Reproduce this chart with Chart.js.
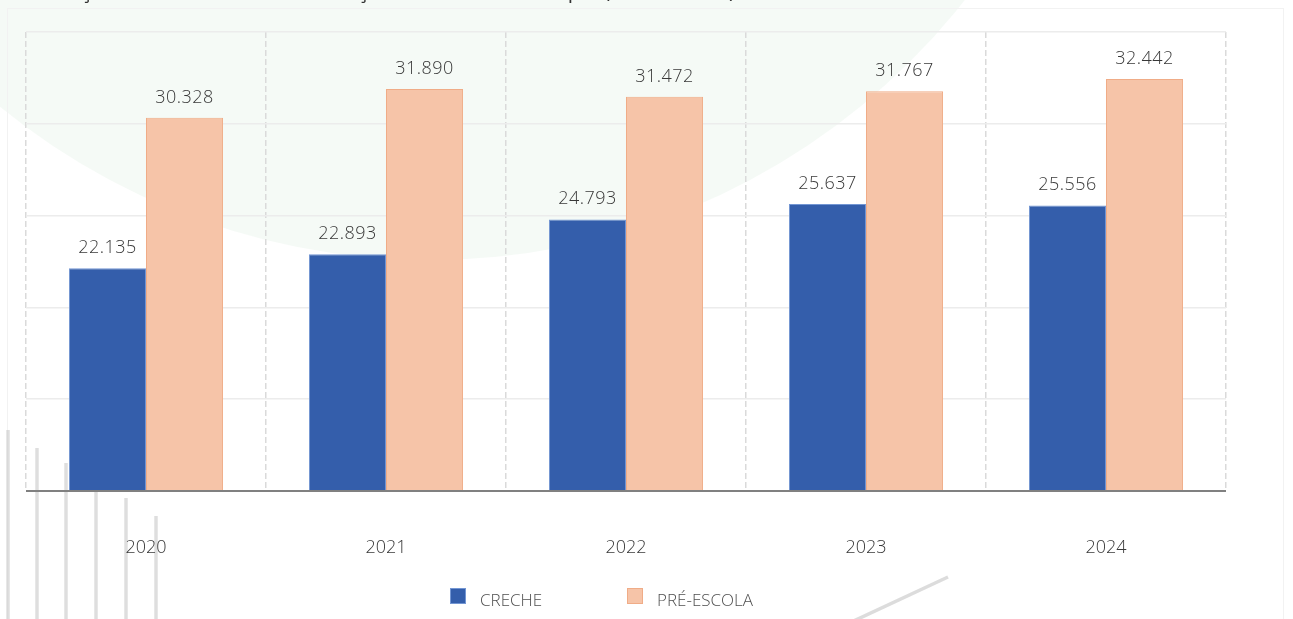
<!DOCTYPE html>
<html>
<head>
<meta charset="utf-8">
<script src="https://cdn.jsdelivr.net/npm/chart.js@4/dist/chart.umd.min.js"></script>
<style>
  html,body{margin:0;padding:0;background:#ffffff;}
  #wrap{width:1293px;height:619px;position:relative;}
</style>
</head>
<body>
<div id="wrap"><canvas id="c" width="1293" height="619"></canvas></div>
<script>
const titleText = "Evolução das matrículas na educação infantil no município (2020 a 2024)";
const categories = ["2020", "2021", "2022", "2023", "2024"];
const seriesNames = ["CRECHE", "PRÉ-ESCOLA"];
const creche = [22135, 22893, 24793, 25637, 25556];
const preEscola = [30328, 31890, 31472, 31767, 32442];
const yTicks = [10000, 15000, 20000, 25000, 30000, 35000];

const FONT = '"Open Sans", "Liberation Sans", sans-serif';
const BLUE = '#345eab', BLUE_B = '#7396d3';
const PINK = '#f6c4a8', PINK_B = '#f0ac87';

function fmt(v){ return String(v).replace(/\B(?=(\d{3})+(?!\d))/g, '.'); }

const background = {
  id: 'background',
  beforeDraw(chart){
    const ctx = chart.ctx;
    ctx.save();
    ctx.fillStyle = '#ffffff';
    ctx.fillRect(0,0,chart.width,chart.height);
    // faint decorative circle
    ctx.fillStyle = 'rgba(236,245,239,0.55)';
    ctx.beginPath();
    ctx.arc(430, -420, 680, 0, Math.PI*2);
    ctx.fill();
    // faint frame
    ctx.strokeStyle = '#f2f2f2';
    ctx.lineWidth = 1;
    ctx.strokeRect(7.5, 8.5, 1276, 700);
    // decorative gray lines bottom-left
    ctx.strokeStyle = 'rgba(200,200,200,0.6)';
    ctx.lineWidth = 3.5;
    const xs = [[8,430],[37,448],[66,463],[96,490],[126,498],[156,516]];
    xs.forEach(([x,y])=>{ctx.beginPath();ctx.moveTo(x,y);ctx.lineTo(x,chart.height);ctx.stroke();});
    // diagonal line bottom
    ctx.strokeStyle = 'rgba(205,205,205,0.7)';
    ctx.beginPath(); ctx.moveTo(845,625); ctx.lineTo(948,577); ctx.stroke();
    // cut-off title
    ctx.fillStyle = '#333333';
    ctx.font = '21px ' + FONT;
    ctx.textBaseline = 'alphabetic';
    ctx.fillText(titleText, 28, -2);
    ctx.restore();
  }
};

const baseline = {
  id: 'baseline',
  afterDatasetsDraw(chart){
    const {ctx, chartArea} = chart;
    ctx.save();
    ctx.strokeStyle = '#808080';
    ctx.lineWidth = 2;
    ctx.setLineDash([]);
    ctx.beginPath();
    ctx.moveTo(chartArea.left, chartArea.bottom);
    ctx.lineTo(chartArea.right, chartArea.bottom);
    ctx.stroke();
    ctx.restore();
  }
};

const valueLabels = {
  id: 'valueLabels',
  afterDatasetsDraw(chart){
    const ctx = chart.ctx;
    ctx.save();
    ctx.font = '300 18px ' + FONT;
    ctx.fillStyle = '#383838';
    ctx.textAlign = 'center';
    ctx.textBaseline = 'alphabetic';
    try { ctx.letterSpacing = '0.5px'; } catch(e){}
    chart.data.datasets.forEach((ds, i)=>{
      chart.getDatasetMeta(i).data.forEach((bar, j)=>{
        ctx.fillText(fmt(ds.data[j]), bar.x, bar.y - 15);
      });
    });
    ctx.restore();
  }
};

const customLegend = {
  id: 'customLegend',
  afterDraw(chart){
    const ctx = chart.ctx;
    ctx.save();
    ctx.font = '300 17px ' + FONT;
    ctx.textBaseline = 'middle';
    ctx.textAlign = 'left';
    const starts = [450, 627];
    chart.data.datasets.forEach((ds, i)=>{
      const x = starts[i], y = 588;
      ctx.fillStyle = ds.backgroundColor;
      ctx.fillRect(x, y, 16, 16);
      ctx.strokeStyle = ds.borderColor;
      ctx.lineWidth = 1;
      ctx.strokeRect(x+0.5, y+0.5, 15, 15);
      ctx.fillStyle = '#505050';
      ctx.fillText(ds.label, x + 30, y + 13);
    });
    ctx.restore();
  }
};

new Chart(document.getElementById('c'), {
  type: 'bar',
  data: {
    labels: categories,
    datasets: [
      { label: seriesNames[0], data: creche, backgroundColor: BLUE, borderColor: BLUE_B, borderWidth: 1,
        categoryPercentage: 0.642, barPercentage: 1.0 },
      { label: seriesNames[1], data: preEscola, backgroundColor: PINK, borderColor: PINK_B, borderWidth: 1,
        categoryPercentage: 0.642, barPercentage: 1.0 }
    ]
  },
  options: {
    responsive: false,
    animation: false,
    devicePixelRatio: 1,
    layout: { padding: { left: 26, right: 67, top: 32, bottom: 0 } },
    plugins: {
      legend: { display: false },
      tooltip: { enabled: false },
      title: { display: false }
    },
    scales: {
      x: {
        grid: { display: true, drawTicks: false, color: '#dadada', lineWidth: 1.5, offset: true },
        border: { display: false, dash: [6, 3] },
        ticks: { font: { family: FONT, size: 18, weight: 300 }, color: '#383838', padding: 46 },
        afterFit(scale){ scale.height = 128; }
      },
      y: {
        min: 10000, max: 35000,
        afterBuildTicks(scale){ scale.ticks = yTicks.map(v=>({value:v})); },
        grid: { color: '#ececec', lineWidth: 1.5, drawTicks: false },
        border: { display: false },
        ticks: { display: false },
        afterFit(scale){ scale.width = 0; }
      }
    }
  },
  plugins: [background, baseline, valueLabels, customLegend]
});
</script>
</body>
</html>
